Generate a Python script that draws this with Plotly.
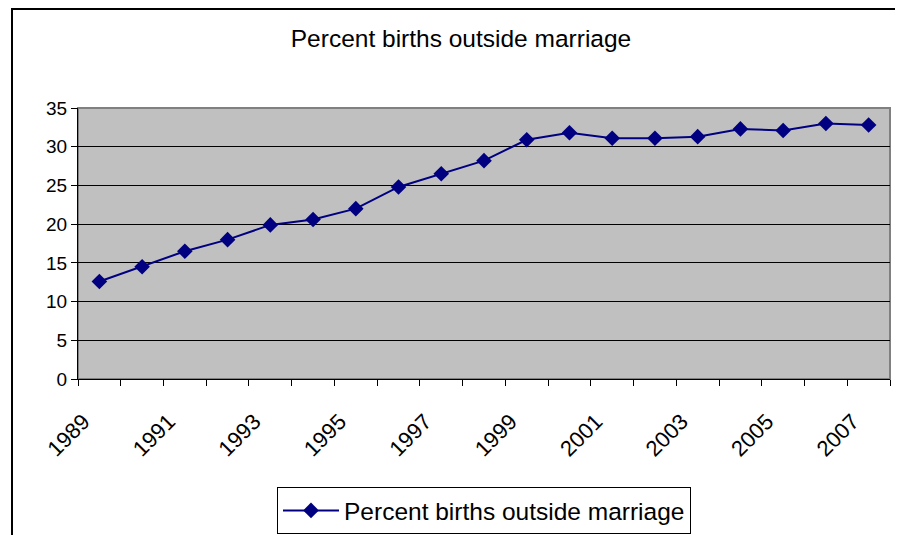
import plotly.graph_objects as go

# Data
years = list(range(1989, 2008))
pct_outside = [12.6, 14.5, 16.5, 18.0, 19.9, 20.6, 22.0, 24.8, 26.5, 28.2,
               30.9, 31.8, 31.1, 31.1, 31.3, 32.3, 32.1, 33.0, 32.8]
label_years = list(range(1989, 2008, 2))
y_ticks = [0, 5, 10, 15, 20, 25, 30, 35]

SERIES_NAME = 'Percent births outside marriage'
COLOR_LINE = '#000080'   # Excel navy
COLOR_PLOT_BG = '#C0C0C0'
FONT = 'Liberation Sans, Arial, sans-serif'

# page has an 8px body margin, so everything is offset by 8px
W, H = 895, 527
L, R, T, B = 70, 13, 100, 156
pw, ph = W - L - R, H - T - B


def px_to_paper_x(px):
    return (px - L) / pw


def px_to_paper_y(py):
    return (H - B - py) / ph


fig = go.Figure()

fig.add_trace(go.Scatter(
    x=years,
    y=pct_outside,
    mode='lines+markers',
    name=SERIES_NAME,
    line=dict(color=COLOR_LINE, width=2),
    marker=dict(symbol='diamond', size=12, color=COLOR_LINE),
))

# Outer chart frame (Excel chart area border), runs off right/bottom
fig.add_shape(type='rect', xref='paper', yref='paper',
              x0=px_to_paper_x(4), x1=px_to_paper_x(W + 20),
              y0=px_to_paper_y(H + 20), y1=px_to_paper_y(1),
              line=dict(color='black', width=2), fillcolor='rgba(0,0,0,0)')
# Plot area border (gray)
fig.add_shape(type='rect', xref='paper', yref='paper',
              x0=0, x1=1, y0=0, y1=1,
              line=dict(color='#808080', width=2), layer='below')

fig.update_layout(
    width=W, height=H,
    margin=dict(l=L, r=R, t=T, b=B, autoexpand=False),
    paper_bgcolor='white',
    plot_bgcolor=COLOR_PLOT_BG,
    font=dict(family=FONT, color='black'),
    title=dict(text=SERIES_NAME, x=453 / W, xanchor='center',
               y=1 - 30 / H, yanchor='middle',
               font=dict(size=24.5, family=FONT, color='black')),
    showlegend=True,
    legend=dict(
        orientation='h',
        x=px_to_paper_x(476), xanchor='center',
        y=px_to_paper_y(479), yanchor='top',
        itemwidth=56,
        bordercolor='black', borderwidth=1, bgcolor='white',
        font=dict(size=24.5, family=FONT, color='black'),
    ),
    xaxis=dict(
        range=[1988.5, 2007.5],
        tickvals=label_years,
        ticktext=[str(y) for y in label_years],
        tickangle=-45,
        ticks='',
        ticklabelstandoff=20,
        ticklabelshift=-16,
        automargin=False,
        showgrid=False,
        zeroline=False,
        showline=True, linecolor='black', linewidth=1,
        tickfont=dict(size=22, family=FONT, color='black'),
        minor=dict(tick0=1988.5, dtick=1, ticks='outside', ticklen=6,
                   tickcolor='black', tickwidth=1, showgrid=False),
    ),
    yaxis=dict(
        range=[0, 35],
        tickvals=y_ticks,
        ticks='outside', ticklen=6, tickcolor='black',
        automargin=False,
        showgrid=True, gridcolor='black', gridwidth=1,
        zeroline=False,
        showline=True, linecolor='black', linewidth=1,
        tickfont=dict(size=19, family=FONT, color='black'),
    ),
)

fig.write_html('out.html')
